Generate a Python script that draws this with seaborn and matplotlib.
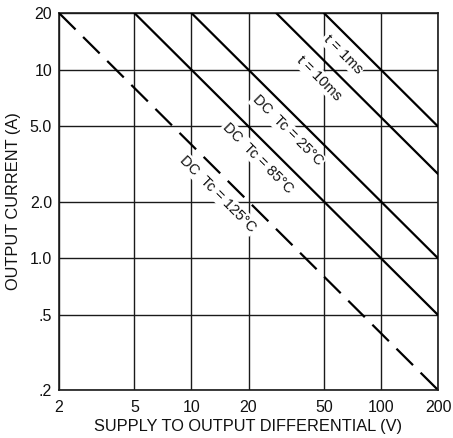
import matplotlib
matplotlib.use("Agg")
import matplotlib.pyplot as plt
import seaborn as sns
import pandas as pd

# Data (endpoints of each straight log-log line)
v_1ms = [50, 200]
i_1ms = [20, 5.0]
v_10ms = [28, 200]
i_10ms = [20, 2.8]
v_dc25 = [10, 200]
i_dc25 = [20, 1.0]
v_dc85 = [5, 200]
i_dc85 = [20, 0.5]
v_dc125 = [2, 200]
i_dc125 = [20, 0.2]

x_ticks = [2, 5, 10, 20, 50, 100, 200]
x_tick_labels = ["2", "5", "10", "20", "50", "100", "200"]
y_ticks = [0.2, 0.5, 1.0, 2.0, 5.0, 10, 20]
y_tick_labels = [".2", ".5", "1.0", "2.0", "5.0", "10", "20"]

series_labels = ["t = 1ms", "t = 10ms", "DC  Tc = 25°C", "DC  Tc = 85°C", "DC  Tc = 125°C"]

sns.set_theme(style="white")
plt.rcParams["font.family"] = ["Liberation Sans", "DejaVu Sans"]

fig = plt.figure(figsize=(4.53, 4.38), dpi=100)
ax = fig.add_axes([59 / 453, 1 - 390 / 438, 379 / 453, 377 / 438])

series = [
    (v_1ms, i_1ms, False),
    (v_10ms, i_10ms, False),
    (v_dc25, i_dc25, False),
    (v_dc85, i_dc85, False),
    (v_dc125, i_dc125, True),
]
for (vx, iy, dashed), lab in zip(series, series_labels):
    df = pd.DataFrame({"V": vx, "I": iy})
    line_kw = dict(color="black", linewidth=1.6, zorder=4)
    if dashed:
        line_kw["dashes"] = (10.5, 4.8)
    sns.lineplot(data=df, x="V", y="I", ax=ax, **line_kw)

ax.set_xscale("log")
ax.set_yscale("log")
ax.set_xlim(2, 200)
ax.set_ylim(0.2, 20)
ax.set_xticks(x_ticks)
ax.set_xticklabels(x_tick_labels)
ax.set_yticks(y_ticks)
ax.set_yticklabels(y_tick_labels)
ax.minorticks_off()
ax.tick_params(axis="both", length=0, labelsize=11.5, colors="#111111")
ax.tick_params(axis="x", pad=7)
ax.tick_params(axis="y", pad=5)

ax.grid(True, which="major", color="#1a1a1a", linewidth=1.0)
ax.set_axisbelow(True)
for s in ax.spines.values():
    s.set_color("#1a1a1a")
    s.set_linewidth(1.2)

ax.set_xlabel("SUPPLY TO OUTPUT DIFFERENTIAL (V)", fontsize=11.8, labelpad=3, color="#111111")
ax.set_ylabel("OUTPUT CURRENT (A)", fontsize=11.8, labelpad=6, color="#111111")

label_pos = [(0.749, 0.891), (0.686, 0.828), (0.603, 0.688), (0.525, 0.615), (0.420, 0.520)]
for (fx, fy), lab in zip(label_pos, series_labels):
    ax.text(fx, fy, lab, transform=ax.transAxes, rotation=-45, rotation_mode="anchor",
            ha="center", va="center", fontsize=10.5, color="#111111", zorder=3,
            bbox=dict(facecolor="white", edgecolor="none", pad=1.0))

fig.savefig("out.png", dpi=100)
